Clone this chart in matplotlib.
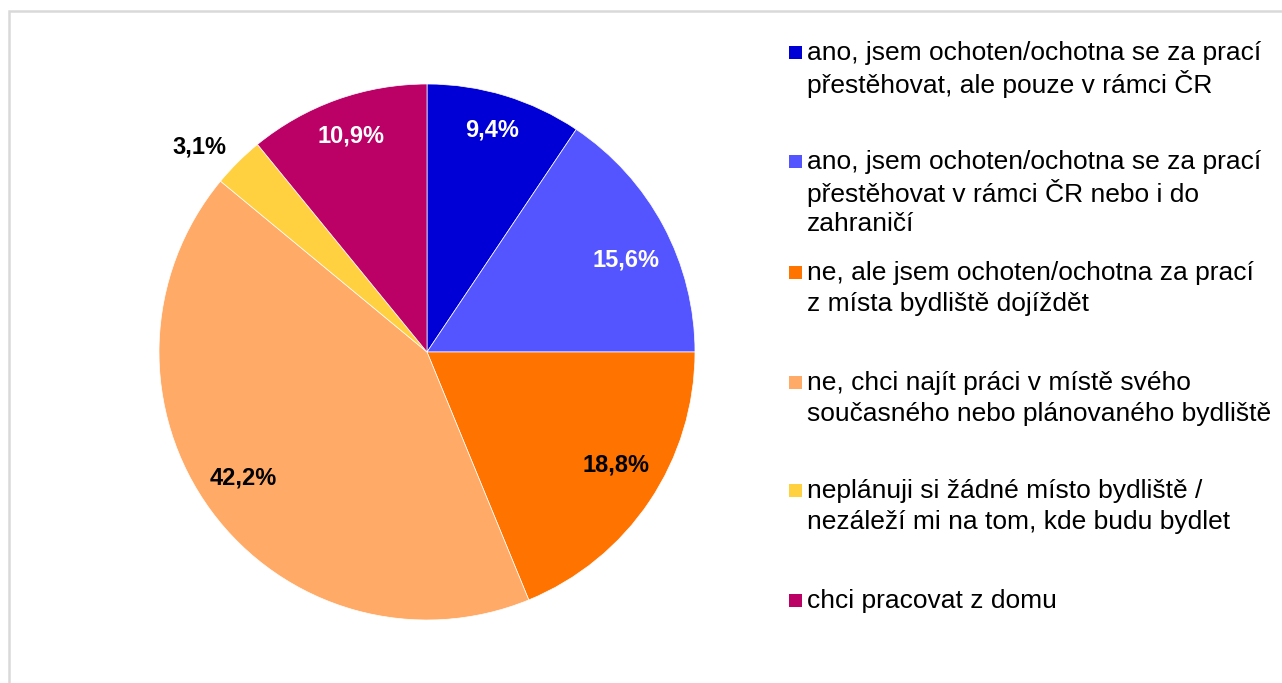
import numpy as np
import matplotlib
matplotlib.use("Agg")
import matplotlib.pyplot as plt
from matplotlib.patches import Rectangle

plt.rcParams["font.family"] = ["Liberation Sans", "DejaVu Sans"]

# Share of respondents by willingness to move for work (%)
categories = [
    "ano, jsem ochoten/ochotna se za prací\npřestěhovat, ale pouze v rámci ČR",
    "ano, jsem ochoten/ochotna se za prací\npřestěhovat v rámci ČR nebo i do\nzahraničí",
    "ne, ale jsem ochoten/ochotna za prací\nz místa bydliště dojíždět",
    "ne, chci najít práci v místě svého\nsoučasného nebo plánovaného bydliště",
    "neplánuji si žádné místo bydliště /\nnezáleží mi na tom, kde budu bydlet",
    "chci pracovat z domu",
]
values = [9.4, 15.6, 18.8, 42.2, 3.1, 10.9]
colors = ["#0000d6", "#5555ff", "#ff7300", "#ffaa66", "#ffd040", "#bb0066"]
label_colors = ["white", "white", "black", "black", "black", "white"]
# data label placement: radius (fraction of pie radius) and angular nudge (deg)
label_radius = [0.863, 0.818, 0.822, 0.832, 1.144, 0.854]
label_nudge = [0.6, -3.3, 2.9, -2.0, 3.2, -0.2]

W, H = 1282, 683
fig = plt.figure(figsize=(W / 100, H / 100), dpi=100)

# light grey chart frame
fig.patches.append(Rectangle((9 / W, -0.05), 1.2, (H - 11) / H + 0.05,
                             transform=fig.transFigure, fill=False,
                             edgecolor="#d9d9d9", linewidth=1.8))

cx, cy, r = 427, 352, 268
ax = fig.add_axes([(cx - r) / W, (H - cy - r) / H, 2 * r / W, 2 * r / H])
wedges, _ = ax.pie(values, colors=colors, startangle=90, counterclock=False,
                   radius=1.0, wedgeprops=dict(linewidth=0.5, edgecolor="white"))
ax.set_xlim(-1, 1)
ax.set_ylim(-1, 1)
ax.set_aspect("equal")
ax.axis("off")

for w, v, c, rr, dn in zip(wedges, values, label_colors, label_radius, label_nudge):
    ang = np.deg2rad((w.theta1 + w.theta2) / 2 + dn)
    ax.text(rr * np.cos(ang), rr * np.sin(ang), f"{v:.1f}%".replace(".", ","),
            ha="center", va="center", fontsize=17, fontweight="bold", color=c)

# legend drawn by hand: square + wrapped label
first_line_y = [53, 162, 273, 383, 491, 601]
line_gap = 31
for cat, col, y0 in zip(categories, colors, first_line_y):
    fig.patches.append(Rectangle((789 / W, (H - y0 - 6) / H), 13 / W, 13 / H,
                                 transform=fig.transFigure, facecolor=col,
                                 edgecolor="none"))
    for i, line in enumerate(cat.split("\n")):
        fig.text(807 / W, (H - y0 - i * line_gap) / H, line, ha="left",
                 va="center", fontsize=19, color="#000000")

fig.savefig("out.png", dpi=100)
